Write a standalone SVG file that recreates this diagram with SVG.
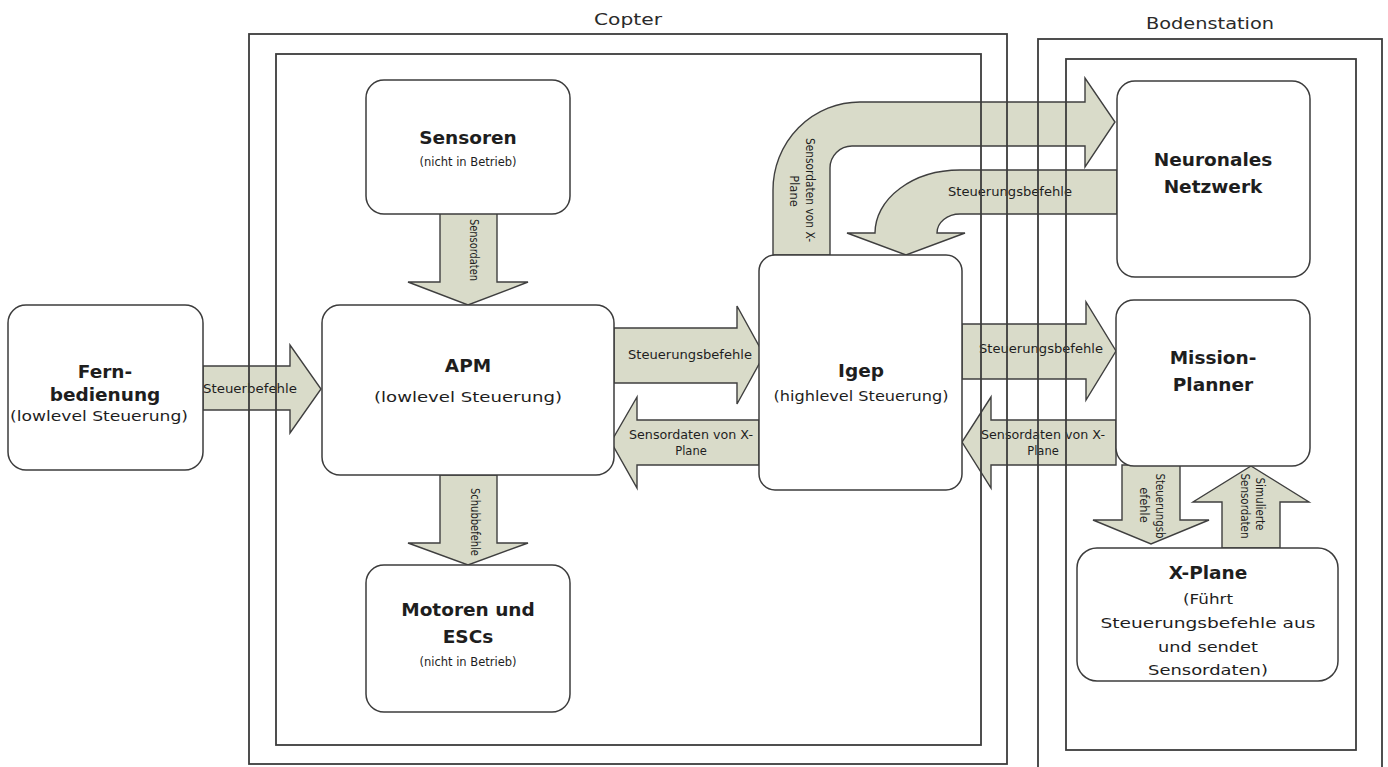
<svg xmlns="http://www.w3.org/2000/svg" width="1388" height="767" viewBox="0 0 1388 767">
<style>
.frame{fill:none;stroke:#3c3c3c;stroke-width:1.8}
.box{fill:#fff;stroke:#3c3c3c;stroke-width:1.5}
.arr{fill:#d9dbc9;stroke:#3f3f3f;stroke-width:1.4;stroke-linejoin:miter}
.t{font-family:"DejaVu Sans",Verdana,sans-serif;fill:#1e1e1e;text-anchor:middle}
.title{font-weight:bold;font-size:18.5px}
.sub{font-size:14.5px}
.xsub{font-size:14.5px}
.small{font-size:11.5px}
.lbl{font-size:11.5px}
.grp{font-size:15.5px;fill:#2a2a2a}
</style>
<rect width="1388" height="767" fill="#fff"/>
<g id="connectors">
  <path class="arr" d="M203,366 H290 V345 L321,389 L290,433 V410 H203 Z"/>
  <path class="arr" d="M440,213 V282 H408 L468,305 L528,282 H497 V213 Z"/>
  <path class="arr" d="M440,475 V543 H408 L468,565 L528,543 H497 V475 Z"/>
  <path class="arr" d="M614,328 H737 V306 L764,355 L737,404 V383 H614 Z"/>
  <path class="arr" d="M759,420 H637 V397 L611,442 L637,488 V465 H759 Z"/>
  <path class="arr" d="M962,324 H1086 V302 L1116,351 L1086,400 V379 H962 Z"/>
  <path class="arr" d="M1116,420 H991 V397 L962,442 L991,488 V465 H1116 Z"/>
  <path class="arr" d="M1122,465 V520 H1093 L1151,544 L1209,520 H1180 V465 Z"/>
  <path class="arr" d="M1222,548 V502 H1193 L1251,466 L1309,502 H1280 V548 Z"/>
  <path class="arr" d="M773,255 V190 A87,88 0 0 1 860,102 H1085 V78 L1115,122 L1085,167 V146 H852 A22,22 0 0 0 830,168 V255 Z"/>
  <path class="arr" d="M1117,170 H960 A85,63 0 0 0 875,233 H847 L906,255 L965,233 H937 A23,19 0 0 1 960,214 H1117 Z"/>
  <text class="t lbl" x="250" y="393" textLength="94" lengthAdjust="spacingAndGlyphs">Steuerbefehle</text>
  <text class="t lbl" transform="translate(470,250) rotate(90)" textLength="62" lengthAdjust="spacingAndGlyphs">Sensordaten</text>
  <text class="t lbl" transform="translate(471,522) rotate(90)" textLength="68" lengthAdjust="spacingAndGlyphs">Schubbefehle</text>
  <text class="t lbl" x="690" y="359" textLength="124" lengthAdjust="spacingAndGlyphs">Steuerungsbefehle</text>
  <text class="t lbl" x="691" y="439" textLength="124" lengthAdjust="spacingAndGlyphs">Sensordaten von X-</text>
  <text class="t lbl" x="691" y="455">Plane</text>
  <text class="t lbl" x="1041" y="353" textLength="124" lengthAdjust="spacingAndGlyphs">Steuerungsbefehle</text>
  <text class="t lbl" x="1043" y="439" textLength="124" lengthAdjust="spacingAndGlyphs">Sensordaten von X-</text>
  <text class="t lbl" x="1043" y="455">Plane</text>
  <text class="t lbl" x="1010" y="196" textLength="124" lengthAdjust="spacingAndGlyphs">Steuerungsbefehle</text>
  <text class="t lbl" transform="translate(806,190) rotate(90)" textLength="104" lengthAdjust="spacingAndGlyphs">Sensordaten von X-</text>
  <text class="t lbl" transform="translate(790,191) rotate(90)">Plane</text>
  <text class="t lbl" transform="translate(1156,506) rotate(90)" textLength="65" lengthAdjust="spacingAndGlyphs">Steuerungsb</text>
  <text class="t lbl" transform="translate(1140,505) rotate(90)">efehle</text>
  <text class="t lbl" transform="translate(1256,504) rotate(90)" textLength="53" lengthAdjust="spacingAndGlyphs">Simulierte</text>
  <text class="t lbl" transform="translate(1241,506) rotate(90)" textLength="65" lengthAdjust="spacingAndGlyphs">Sensordaten</text>
</g>
<g id="copter">
  <rect class="frame" x="249" y="34" width="758" height="730"/>
  <rect class="frame" x="276" y="54" width="705" height="691"/>
  <text class="t grp" x="628" y="25" textLength="68" lengthAdjust="spacingAndGlyphs">Copter</text>
</g>
<g id="bodenstation">
  <rect class="frame" x="1038" y="39" width="344" height="740"/>
  <rect class="frame" x="1066" y="59" width="290" height="691"/>
  <text class="t grp" x="1210" y="29" textLength="128" lengthAdjust="spacingAndGlyphs">Bodenstation</text>
</g>
<g id="fernbedienung">
  <rect class="box" x="8" y="305" width="195" height="165" rx="18"/>
  <text class="t title" x="105" y="378">Fern-</text>
  <text class="t title" x="105" y="401">bedienung</text>
  <text class="t sub" x="99" y="421" textLength="178" lengthAdjust="spacingAndGlyphs">(lowlevel Steuerung)</text>
</g>
<g id="sensoren">
  <rect class="box" x="366" y="80" width="204" height="134" rx="18"/>
  <text class="t title" x="468" y="144">Sensoren</text>
  <text class="t small" x="468" y="166">(nicht in Betrieb)</text>
</g>
<g id="apm">
  <rect class="box" x="322" y="305" width="292" height="170" rx="18"/>
  <text class="t title" x="468" y="372">APM</text>
  <text class="t sub" x="468" y="402" textLength="188" lengthAdjust="spacingAndGlyphs">(lowlevel Steuerung)</text>
</g>
<g id="motoren">
  <rect class="box" x="366" y="565" width="204" height="147" rx="18"/>
  <text class="t title" x="468" y="616">Motoren und</text>
  <text class="t title" x="468" y="643">ESCs</text>
  <text class="t small" x="468" y="666">(nicht in Betrieb)</text>
</g>
<g id="igep">
  <rect class="box" x="759" y="255" width="203" height="235" rx="16"/>
  <text class="t title" x="861" y="377">Igep</text>
  <text class="t sub" x="861" y="401" textLength="175" lengthAdjust="spacingAndGlyphs">(highlevel Steuerung)</text>
</g>
<g id="neuronales">
  <rect class="box" x="1117" y="81" width="193" height="196" rx="18"/>
  <text class="t title" x="1213" y="166">Neuronales</text>
  <text class="t title" x="1213" y="193">Netzwerk</text>
</g>
<g id="missionplanner">
  <rect class="box" x="1116" y="300" width="194" height="166" rx="18"/>
  <text class="t title" x="1213" y="364">Mission-</text>
  <text class="t title" x="1213" y="391">Planner</text>
</g>
<g id="xplane">
  <rect class="box" x="1077" y="548" width="261" height="133" rx="20"/>
  <text class="t title" x="1208" y="579">X-Plane</text>
  <text class="t xsub" x="1208" y="604" textLength="50" lengthAdjust="spacingAndGlyphs">(Führt</text>
  <text class="t xsub" x="1208" y="628" textLength="215" lengthAdjust="spacingAndGlyphs">Steuerungsbefehle aus</text>
  <text class="t xsub" x="1208" y="652" textLength="100" lengthAdjust="spacingAndGlyphs">und sendet</text>
  <text class="t xsub" x="1208" y="675" textLength="120" lengthAdjust="spacingAndGlyphs">Sensordaten)</text>
</g>
</svg>
